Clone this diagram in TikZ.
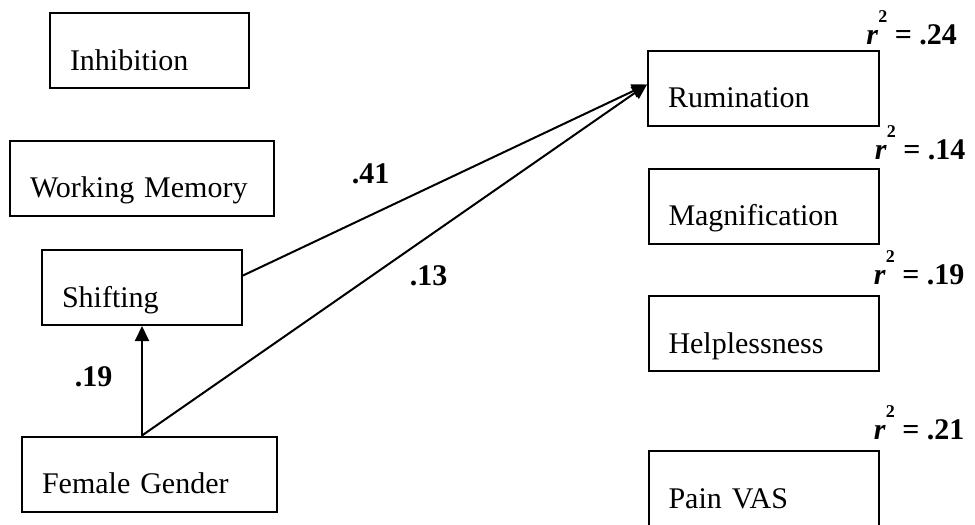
\documentclass[tikz,border=0pt]{standalone}
\usepackage{fontspec}
\setmainfont{Liberation Serif}
\usetikzlibrary{positioning,arrows.meta}
\newcommand{\rsqlabel}[1]{\textit{r}\raisebox{11pt}{\fontsize{9}{10}\selectfont 2} = #1}

\begin{document}
\begin{tikzpicture}[
  x=0.5pt, y=-0.5pt,
  every node/.style={font=\fontsize{15}{18}\selectfont},
  box/.style={draw,line width=1pt,text width=#1,inner xsep=10pt,inner ysep=0pt,text height=28.5pt,text depth=9pt,align=left,on grid},
  coef/.style={font=\fontsize{15}{18}\selectfont\bfseries,anchor=base},
  rsq/.style={font=\fontsize{15}{18}\selectfont\bfseries,anchor=base west,inner sep=0pt},
  effect/.style={line width=1pt,-{Triangle[length=7.5pt,width=7pt]}},
]
\useasboundingbox (0,0) rectangle (975,525);

\node (inhib) [box=79.5pt] at (149.5,50.5) {Inhibition};
\node (wm) [box=112pt] at (142,178) {Working Memory};
\node (shift) [box=80pt] at (142,287.5) {Shifting};
\node (female) [box=107.5pt] at (149.5,474) {Female Gender};

\node (rum) [box=95.5pt] at (763.5,88) {Rumination};
\node (mag) [box=95pt,below=59pt of rum] {Magnification};
\node (help) [box=95pt,below=63.75pt of mag] {Helplessness};
\node (pain) [box=95pt,below=77.5pt of help] {Pain VAS};

\node (rsqrum) [rsq] at ([xshift=-7pt,yshift=2.75pt]rum.north east) {\rsqlabel{.24}};
\node (rsqmag) [rsq] at ([xshift=-2.5pt,yshift=4pt]mag.north east) {\rsqlabel{.14}};
\node (rsqhelp) [rsq] at ([xshift=-3pt,yshift=5.5pt]help.north east) {\rsqlabel{.19}};
\node (rsqpain) [rsq] at ([xshift=-3pt,yshift=5.5pt]pain.north east) {\rsqlabel{.21}};

\draw [effect] (female.north -| shift.south) -- (shift.south);
\draw [effect] ([yshift=6pt]shift.east) -- ([yshift=1.75pt]rum.west);
\draw [effect] (female.north -| shift.south) -- ([yshift=1.75pt]rum.west);

\node (c41) [coef] at (370.5,183) {.41};
\node (c13) [coef] at (428.5,285) {.13};
\node (c19) [coef] at (93.5,386) {.19};
\end{tikzpicture}
\end{document}
